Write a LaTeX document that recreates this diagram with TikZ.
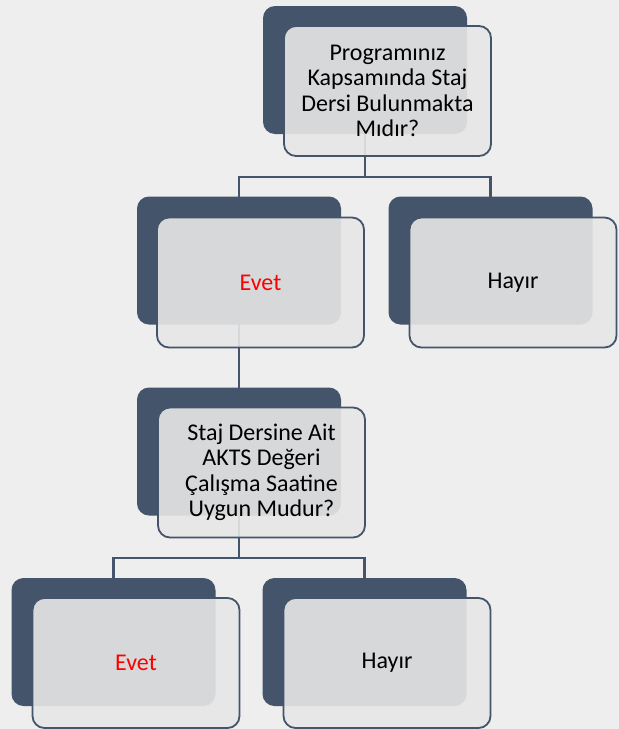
\documentclass[tikz,border=0pt]{standalone}
\usepackage{fontspec}
\setmainfont{Carlito}
\pgfdeclarelayer{bg}
\pgfdeclarelayer{conn}
\pgfsetlayers{bg,conn,main}
\definecolor{darkblue}{HTML}{44546A}
\definecolor{pagebg}{HTML}{EEEEEE}
\definecolor{lightfill}{HTML}{E7E7E7}
\tikzset{
  darkbox/.style={rectangle, rounded corners=12pt, fill=darkblue, draw=none,
    minimum width=204pt, minimum height=128pt, inner sep=0pt},
  lightbox/.style={rectangle, rounded corners=12pt, fill=lightfill, fill opacity=0.9,
    text opacity=1, draw=darkblue, line width=1.8pt, draw opacity=1,
    minimum width=207pt, minimum height=130pt, inner sep=0pt,
    text width=200pt, align=flush center,
    font=\fontsize{24pt}{25.5pt}\selectfont},
  conn/.style={draw=darkblue, line width=2.2pt},
}
\begin{document}
\begin{tikzpicture}[x=1pt,y=-1pt]
\begin{pgfonlayer}{bg}
\fill[pagebg] (0,0) rectangle (619,729);
\end{pgfonlayer}
\useasboundingbox (0,0) rectangle (619,729);
% dark boxes
\node[darkbox] (d1) at (365,70) {};
\node[darkbox] (d2) at (239,260.5) {};
\node[darkbox] (d3) at (490.5,260.5) {};
\node[darkbox] (d4) at (239,451.5) {};
\node[darkbox] (d5) at (113.5,642) {};
\node[darkbox] (d6) at (364.5,642) {};
% light boxes
\node[lightbox] (l1) at (387.5,91) {Programınız\\Kapsamında Staj\\Dersi Bulunmakta\\Mıdır?};
\node[lightbox, text=red] (l2) at (260.5,282.5) {Evet};
\node[lightbox] (l3) at (513,282.5) {Hayır};
\node[lightbox] (l4) at (261.5,472.5) {Staj Dersine Ait\\AKTS Değeri\\Çalışma Saatine\\Uygun Mudur?};
\node[lightbox, text=red] (l5) at (136,663) {Evet};
\node[lightbox] (l6) at (387,663) {Hayır};
% connectors
\coordinate (j1) at (365,177);
\coordinate (j2) at (239,558);
\begin{pgfonlayer}{conn}
\draw[conn] (d1.center) -- (d1.center |- j1) -| (d2.center);
\draw[conn] (d1.center |- j1) -| (d3.center);
\draw[conn] (d2.center) -- (d4.center);
\draw[conn] (d4.center) -- (d4.center |- j2) -| (d5.center);
\draw[conn] (d4.center |- j2) -| (d6.center);
\end{pgfonlayer}
\end{tikzpicture}
\end{document}
